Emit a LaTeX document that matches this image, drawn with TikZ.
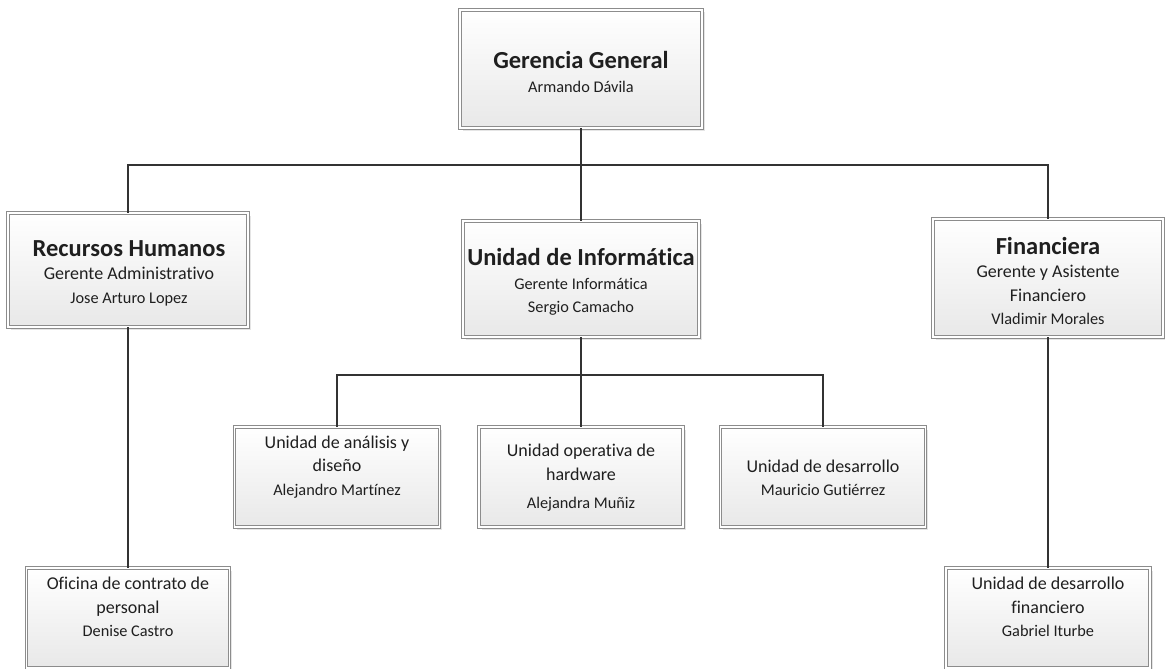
\documentclass[tikz,border=0pt]{standalone}
\usepackage{fontspec}
\setmainfont{Carlito}[Ligatures=NoCommon]
\usetikzlibrary{shadows}
\newcommand\rol{\fontsize{18}{22}\selectfont}
\newcommand\nom{\fontsize{16.3}{20}\selectfont}
\newcommand\ttl{\fontsize{24.5}{28}\selectfont\bfseries}
\tikzset{
    box/.style={draw=black!45, double=white, double distance=1.8pt, line width=0.7pt,
        top color=white, bottom color=black!9, inner sep=0pt,
        drop shadow={opacity=0.2, shadow xshift=2.5pt, shadow yshift=-2.5pt}},
    txt/.style={align=center, inner sep=0pt, text=black!88, font=\fontsize{16}{23.5}\selectfont},
    link/.style={draw=black!80, line width=1.4pt}
}
\begin{document}
\begin{tikzpicture}[x=1pt, y=-1pt]
    \useasboundingbox[fill=white] (0,0) rectangle (1165,669);

    \node[box, minimum width=242, minimum height=118] (gg) at (581,69) {};
    \node[box, minimum width=240, minimum height=114] (rh) at (128,270) {};
    \node[box, minimum width=236, minimum height=116] (inf) at (581,279) {};
    \node[box, minimum width=230, minimum height=118] (fin) at (1048,278) {};
    \node[box, minimum width=205, minimum height=100] (ana) at (337,477) {};
    \node[box, minimum width=204, minimum height=100] (uop) at (581,477) {};
    \node[box, minimum width=205, minimum height=100] (des) at (823,477) {};
    \node[box, minimum width=203, minimum height=100] (ofi) at (128,618) {};
    \node[box, minimum width=204, minimum height=100] (udf) at (1048,618) {};

    \node[txt] (ggt) at (581,72) {{\ttl Gerencia General}\\{\nom Armando Dávila}};
    \node[txt] (rht) at (129,273) {{\ttl Recursos Humanos}\\{\rol Gerente Administrativo}\\{\nom Jose Arturo Lopez}};
    \node[txt] (inft) at (581,282) {{\ttl Unidad de Informática}\\{\nom Gerente Informática}\\{\nom Sergio Camacho}};
    \node[txt] (fint) at (1048,281) {{\ttl Financiera}\\{\rol Gerente y Asistente}\\{\rol Financiero}\\{\nom Vladimir Morales}};
    \node[txt] (anat) at (337,467) {{\rol Unidad de análisis y}\\{\rol diseño}\\{\nom Alejandro Martínez}};
    \node[txt] (uopt) at (581,478) {{\rol Unidad operativa de}\\{\rol hardware}\\[5pt]{\nom Alejandra Muñiz}};
    \node[txt] (dest) at (823,478) {{\rol Unidad de desarrollo}\\{\nom Mauricio Gutiérrez}};
    \node[txt] (ofit) at (128,607) {{\rol Oficina de contrato de}\\{\rol personal}\\{\nom Denise Castro}};
    \node[txt] (udft) at (1048,607) {{\rol Unidad de desarrollo}\\{\rol financiero}\\{\nom Gabriel Iturbe}};

    \coordinate (bus) at (581,165);
    \coordinate (bus2) at (581,375);

    \draw[link] (gg.south) -- (inf.north);
    \draw[link] (rh.north) |- (bus) -| (fin.north);
    \draw[link] (inf.south) -- (uop.north);
    \draw[link] (ana.north) |- (bus2) -| (des.north);
    \draw[link] (rh.south) -- (ofi.north);
    \draw[link] (fin.south) -- (udf.north);
\end{tikzpicture}
\end{document}
